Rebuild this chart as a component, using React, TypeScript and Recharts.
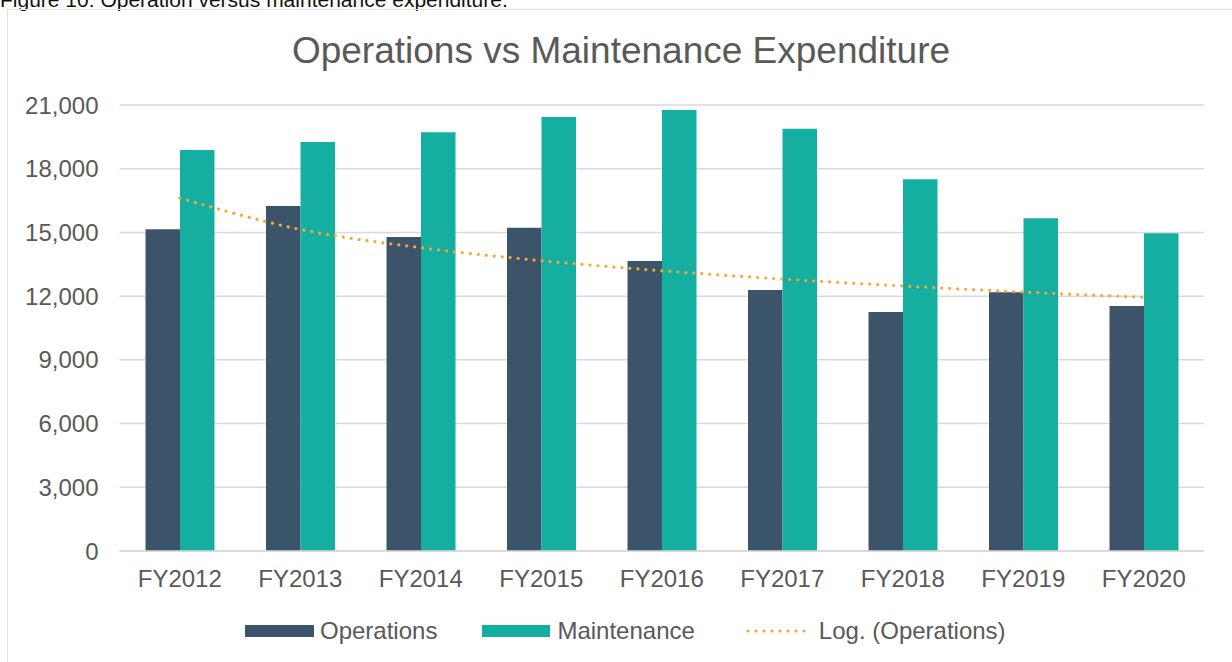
import React from "react";
import { ComposedChart, Bar, Line, XAxis, YAxis, CartesianGrid } from "recharts";

const categories = ["FY2012", "FY2013", "FY2014", "FY2015", "FY2016", "FY2017", "FY2018", "FY2019", "FY2020"];
const operations = [15150, 16240, 14790, 15220, 13660, 12290, 11250, 12180, 11540];
const maintenance = [18880, 19260, 19720, 20440, 20770, 19880, 17500, 15670, 14960];
const yTicks = [0, 3000, 6000, 9000, 12000, 15000, 18000, 21000];

// Logarithmic trendline (least squares fit of Operations against ln(x)), as Excel computes it
function logTrend(values: number[]): number[] {
  const n = values.length;
  const lx = values.map((_, i) => Math.log(i + 1));
  const mx = lx.reduce((a, b) => a + b, 0) / n;
  const my = values.reduce((a, b) => a + b, 0) / n;
  let sxy = 0;
  let sxx = 0;
  for (let i = 0; i < n; i++) {
    sxy += (lx[i] - mx) * (values[i] - my);
    sxx += (lx[i] - mx) * (lx[i] - mx);
  }
  const b = sxy / sxx;
  const a = my - b * mx;
  return lx.map((v) => a + b * v);
}

const trend = logTrend(operations);

const data = categories.map((c, i) => ({
  name: c,
  operations: operations[i],
  maintenance: maintenance[i],
  trend: trend[i],
}));

const OPS = "#3C5469";
const MAINT = "#15AFA2";
const TREND = "#F6A836";
const TEXT = "#595959";
const FONT = "'Liberation Sans', Arial, sans-serif";

export default function App() {
  return (
    <div style={{ position: "absolute", left: 0, top: 0, width: 1232, height: 662, overflow: "hidden", background: "#fff", fontFamily: FONT }}>
      <div style={{ position: "absolute", left: 0, top: -12, fontSize: 21, color: "#111", whiteSpace: "nowrap", lineHeight: "normal" }}>
        Figure 10: Operation versus maintenance expenditure.
      </div>
      <div style={{ position: "absolute", left: 7, top: 9, width: 1300, height: 700, border: "1px solid #e2e2e2", boxSizing: "border-box" }} />
      <div style={{ position: "absolute", left: 0, top: 0 }}>
        <ComposedChart
          width={1232}
          height={662}
          data={data}
          margin={{ top: 105, right: 28, bottom: 71, left: 0 }}
          barGap={0}
          style={{ fontFamily: FONT }}
        >
          <text x={621} y={63} textAnchor="middle" fontSize={37} fill={TEXT} fontFamily={FONT}>
            Operations vs Maintenance Expenditure
          </text>
          <CartesianGrid vertical={false} stroke="#d9d9d9" strokeWidth={1.5} />
          <XAxis
            dataKey="name"
            height={40}
            tickLine={false}
            tickSize={0}
            tickMargin={19}
            axisLine={{ stroke: "#d9d9d9", strokeWidth: 1.5 }}
            tick={{ fontSize: 24, fill: TEXT, fontFamily: FONT }}
            interval={0}
          />
          <YAxis
            width={119.5}
            domain={[0, 21000]}
            ticks={yTicks}
            interval={0}
            axisLine={false}
            tickLine={false}
            tickSize={0}
            tickMargin={21}
            tickFormatter={(v: number) => v.toLocaleString("en-US")}
            tick={{ fontSize: 24, fill: TEXT, fontFamily: FONT }}
          />
          <Bar dataKey="operations" fill={OPS} barSize={34.5} isAnimationActive={false} />
          <Bar dataKey="maintenance" fill={MAINT} barSize={34.5} isAnimationActive={false} />
          <Line
            dataKey="trend"
            type="monotone"
            stroke={TREND}
            strokeWidth={3.2}
            strokeDasharray="0.01 8"
            strokeLinecap="round"
            dot={false}
            activeDot={false}
            isAnimationActive={false}
          />
        </ComposedChart>
      </div>
      <div style={{ position: "absolute", left: 245, top: 619, height: 24, display: "flex", alignItems: "center", fontSize: 24, color: TEXT, whiteSpace: "nowrap" }}>
        <div style={{ width: 69, height: 12, background: OPS, marginRight: 6 }} />
        <span style={{ marginRight: 45 }}>Operations</span>
        <div style={{ width: 68, height: 12, background: MAINT, marginRight: 7 }} />
        <span style={{ marginRight: 51 }}>Maintenance</span>
        <svg width={67} height={12} style={{ marginRight: 6 }}>
          <line x1={2} y1={6} x2={66} y2={6} stroke={TREND} strokeWidth={3.2} strokeDasharray="0.01 8" strokeLinecap="round" />
        </svg>
        <span>Log. (Operations)</span>
      </div>
    </div>
  );
}
